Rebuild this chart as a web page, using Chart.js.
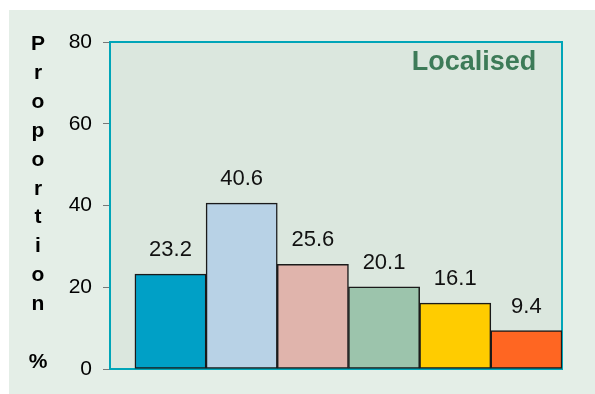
<!DOCTYPE html>
<html>
<head>
<meta charset="utf-8">
<script src="https://cdn.jsdelivr.net/npm/chart.js@4/dist/chart.umd.min.js"></script>
<style>
  body { margin: 0; background: #ffffff; }
  #wrap { position: relative; width: 595px; height: 394px; }
</style>
</head>
<body>
<div id="wrap"><canvas id="chart" width="595" height="394"></canvas></div>
<script>
// values
const positions = [0, 1, 2, 3, 4, 5];
const values = [23.2, 40.6, 25.6, 20.1, 16.1, 9.4];
const barColors = ['#00a0c6', '#b8d2e6', '#e0b4ac', '#9cc4ac', '#ffcc00', '#ff6622'];
const yTicks = [0, 20, 40, 60, 80];
const yTitle = ['P', 'r', 'o', 'p', 'o', 'r', 't', 'i', 'o', 'n', '', '%'];
const panelTitle = 'Localised';

const FONT = '"Liberation Sans", Arial, sans-serif';

const decor = {
    id: 'decor',
    beforeDraw(chart) {
        const { ctx } = chart;
        ctx.save();
        ctx.fillStyle = '#e4eee7';
        ctx.fillRect(9, 10, chart.width - 9, chart.height - 10);
        ctx.restore();
    },
    beforeDatasetsDraw(chart) {
        const { ctx, chartArea: a } = chart;
        ctx.save();
        ctx.fillStyle = '#dbe7de';
        ctx.fillRect(a.left, a.top, a.right - a.left, a.bottom - a.top);
        ctx.strokeStyle = '#00a5b8';
        ctx.lineWidth = 2;
        ctx.strokeRect(a.left, a.top, a.right - a.left, a.bottom - a.top);
        ctx.restore();
    },
    afterDatasetsDraw(chart) {
        const { ctx } = chart;
        ctx.save();
        // value labels
        ctx.font = '22px ' + FONT;
        ctx.fillStyle = '#111';
        ctx.textAlign = 'center';
        ctx.textBaseline = 'alphabetic';
        chart.getDatasetMeta(0).data.forEach((bar, i) => {
            ctx.fillText(values[i].toFixed(1), bar.x, bar.y - 18);
        });
        // panel title
        ctx.font = 'bold 27px ' + FONT;
        ctx.fillStyle = '#3d7b58';
        ctx.fillText(panelTitle, 474, 70);
        // stacked y title
        ctx.font = 'bold 21px ' + FONT;
        ctx.fillStyle = '#000';
        yTitle.forEach((ch, i) => {
            if (ch) ctx.fillText(ch, 38, 50 + i * 28.9);
        });
        ctx.restore();
    }
};

new Chart(document.getElementById('chart'), {
    type: 'bar',
    data: {
        datasets: [{
            data: positions.map((p, i) => ({ x: p, y: values[i] })),
            backgroundColor: barColors,
            borderColor: '#1a1a1a',
            borderWidth: 1.5,
            borderSkipped: false,
            barThickness: 71.2
        }]
    },
    options: {
        responsive: false,
        animation: false,
        layout: { padding: { top: 42, right: 33, bottom: 25, left: 0 } },
        plugins: { legend: { display: false }, tooltip: { enabled: false } },
        scales: {
            x: {
                type: 'linear',
                min: -0.85,
                max: 5.5,
                offset: false,
                display: false
            },
            y: {
                min: 0,
                max: 80,
                afterFit(scale) { scale.width = 110; },
                afterBuildTicks(scale) { scale.ticks = yTicks.map(v => ({ value: v })); },
                ticks: { color: '#000', padding: 11, font: { family: FONT, size: 21 } },
                grid: { drawOnChartArea: false, drawTicks: true, tickLength: 7, color: '#777' },
                border: { display: false }
            }
        }
    },
    plugins: [decor]
});
</script>
</body>
</html>
